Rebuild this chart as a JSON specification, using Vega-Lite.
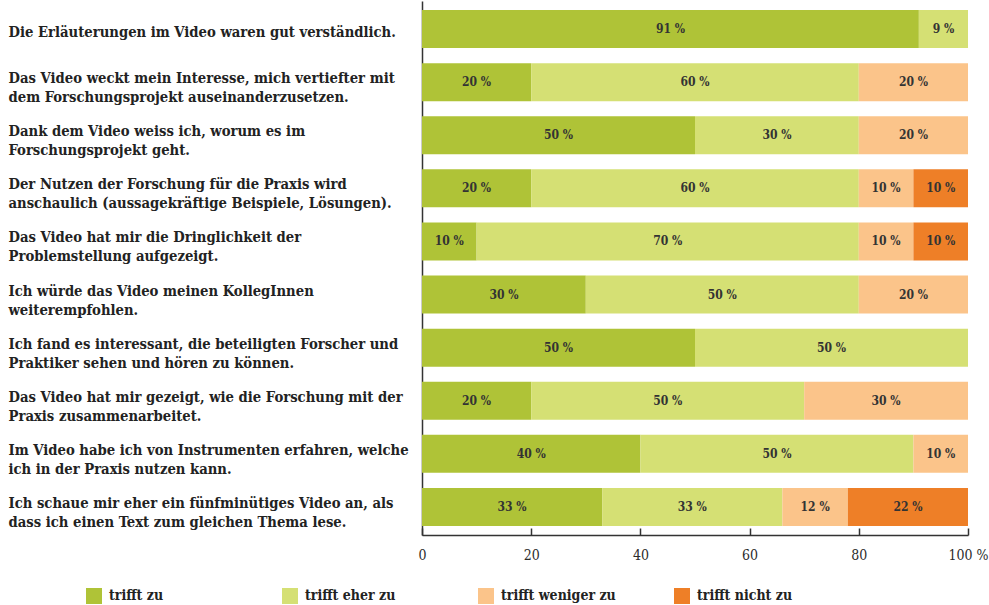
{
  "$schema": "https://vega.github.io/schema/vega-lite/v6.json",
  "autosize": {"type": "none"},
  "width": 546,
  "height": 534,
  "padding": {"left": 422, "top": 1, "right": 21, "bottom": 70},
  "background": "white",
  "config": {
    "view": {"stroke": null},
    "font": "DejaVu Serif Condensed",
    "axis": {"domainColor": "#333333", "tickColor": "#333333", "labelColor": "#2b2b2b", "domainWidth": 1.5, "tickWidth": 1.5}
  },
  "data": {
    "values": [
      {"q": "Die Erläuterungen im Video waren gut verständlich.", "cat": "trifft zu", "k": 1, "value": 91},
      {"q": "Die Erläuterungen im Video waren gut verständlich.", "cat": "trifft eher zu", "k": 2, "value": 9},
      {"q": "Das Video weckt mein Interesse, mich vertiefter mit|dem Forschungsprojekt auseinanderzusetzen.", "cat": "trifft zu", "k": 1, "value": 20},
      {"q": "Das Video weckt mein Interesse, mich vertiefter mit|dem Forschungsprojekt auseinanderzusetzen.", "cat": "trifft eher zu", "k": 2, "value": 60},
      {"q": "Das Video weckt mein Interesse, mich vertiefter mit|dem Forschungsprojekt auseinanderzusetzen.", "cat": "trifft weniger zu", "k": 3, "value": 20},
      {"q": "Dank dem Video weiss ich, worum es im|Forschungsprojekt geht.", "cat": "trifft zu", "k": 1, "value": 50},
      {"q": "Dank dem Video weiss ich, worum es im|Forschungsprojekt geht.", "cat": "trifft eher zu", "k": 2, "value": 30},
      {"q": "Dank dem Video weiss ich, worum es im|Forschungsprojekt geht.", "cat": "trifft weniger zu", "k": 3, "value": 20},
      {"q": "Der Nutzen der Forschung für die Praxis wird|anschaulich (aussagekräftige Beispiele, Lösungen).", "cat": "trifft zu", "k": 1, "value": 20},
      {"q": "Der Nutzen der Forschung für die Praxis wird|anschaulich (aussagekräftige Beispiele, Lösungen).", "cat": "trifft eher zu", "k": 2, "value": 60},
      {"q": "Der Nutzen der Forschung für die Praxis wird|anschaulich (aussagekräftige Beispiele, Lösungen).", "cat": "trifft weniger zu", "k": 3, "value": 10},
      {"q": "Der Nutzen der Forschung für die Praxis wird|anschaulich (aussagekräftige Beispiele, Lösungen).", "cat": "trifft nicht zu", "k": 4, "value": 10},
      {"q": "Das Video hat mir die Dringlichkeit der|Problemstellung aufgezeigt.", "cat": "trifft zu", "k": 1, "value": 10},
      {"q": "Das Video hat mir die Dringlichkeit der|Problemstellung aufgezeigt.", "cat": "trifft eher zu", "k": 2, "value": 70},
      {"q": "Das Video hat mir die Dringlichkeit der|Problemstellung aufgezeigt.", "cat": "trifft weniger zu", "k": 3, "value": 10},
      {"q": "Das Video hat mir die Dringlichkeit der|Problemstellung aufgezeigt.", "cat": "trifft nicht zu", "k": 4, "value": 10},
      {"q": "Ich würde das Video meinen KollegInnen|weiterempfohlen.", "cat": "trifft zu", "k": 1, "value": 30},
      {"q": "Ich würde das Video meinen KollegInnen|weiterempfohlen.", "cat": "trifft eher zu", "k": 2, "value": 50},
      {"q": "Ich würde das Video meinen KollegInnen|weiterempfohlen.", "cat": "trifft weniger zu", "k": 3, "value": 20},
      {"q": "Ich fand es interessant, die beteiligten Forscher und|Praktiker sehen und hören zu können.", "cat": "trifft zu", "k": 1, "value": 50},
      {"q": "Ich fand es interessant, die beteiligten Forscher und|Praktiker sehen und hören zu können.", "cat": "trifft eher zu", "k": 2, "value": 50},
      {"q": "Das Video hat mir gezeigt, wie die Forschung mit der|Praxis zusammenarbeitet.", "cat": "trifft zu", "k": 1, "value": 20},
      {"q": "Das Video hat mir gezeigt, wie die Forschung mit der|Praxis zusammenarbeitet.", "cat": "trifft eher zu", "k": 2, "value": 50},
      {"q": "Das Video hat mir gezeigt, wie die Forschung mit der|Praxis zusammenarbeitet.", "cat": "trifft weniger zu", "k": 3, "value": 30},
      {"q": "Im Video habe ich von Instrumenten erfahren, welche|ich in der Praxis nutzen kann.", "cat": "trifft zu", "k": 1, "value": 40},
      {"q": "Im Video habe ich von Instrumenten erfahren, welche|ich in der Praxis nutzen kann.", "cat": "trifft eher zu", "k": 2, "value": 50},
      {"q": "Im Video habe ich von Instrumenten erfahren, welche|ich in der Praxis nutzen kann.", "cat": "trifft weniger zu", "k": 3, "value": 10},
      {"q": "Ich schaue mir eher ein fünfminütiges Video an, als|dass ich einen Text zum gleichen Thema lese.", "cat": "trifft zu", "k": 1, "value": 33},
      {"q": "Ich schaue mir eher ein fünfminütiges Video an, als|dass ich einen Text zum gleichen Thema lese.", "cat": "trifft eher zu", "k": 2, "value": 33},
      {"q": "Ich schaue mir eher ein fünfminütiges Video an, als|dass ich einen Text zum gleichen Thema lese.", "cat": "trifft weniger zu", "k": 3, "value": 12},
      {"q": "Ich schaue mir eher ein fünfminütiges Video an, als|dass ich einen Text zum gleichen Thema lese.", "cat": "trifft nicht zu", "k": 4, "value": 22}
    ]
  },
  "encoding": {
    "y": {
      "field": "q", "type": "nominal", "sort": null, "title": null,
      "scale": {"paddingInner": 0.284, "paddingOuter": 0.17},
      "axis": {
        "ticks": false, "labelAlign": "left", "labelPadding": 414, "labelBaseline": "middle",
        "labelExpr": "split(datum.label, '|')", "labelFontSize": 14.7, "labelFontWeight": "bold",
        "labelLineHeight": 19,
        "labelOffset": {"condition": {"test": "indexof(datum.value, '|') >= 0", "value": -3}, "value": 4},
        "labelLimit": 420, "labelColor": "#222222"
      }
    },
    "x": {
      "field": "value", "type": "quantitative", "stack": "zero", "title": null,
      "scale": {"domain": [0, 100], "nice": false},
      "axis": {
        "values": [0, 20, 40, 60, 80, 100], "tickSize": -7, "labelPadding": 20, "labelFontSize": 14,
        "labelExpr": "datum.value == 100 ? '100 %' : datum.label", "grid": false, "labelFlush": false
      }
    },
    "order": {"field": "k", "type": "quantitative"}
  },
  "layer": [
    {
      "mark": {"type": "bar"},
      "encoding": {
        "color": {
          "field": "cat", "type": "nominal", "title": null,
          "sort": ["trifft zu", "trifft eher zu", "trifft weniger zu", "trifft nicht zu"],
          "scale": {"domain": ["trifft zu", "trifft eher zu", "trifft weniger zu", "trifft nicht zu"], "range": ["#afc337", "#d5e074", "#fbc48a", "#ee7f27"]},
          "legend": {
            "orient": "none", "direction": "horizontal", "columns": 4, "legendX": -336, "legendY": 587,
            "padding": 0, "symbolType": "square", "symbolSize": 256, "symbolStrokeWidth": 0, "symbolOpacity": 1,
            "labelFontSize": 14, "labelFontWeight": "bold", "labelColor": "#222222", "labelOffset": 7,
            "gridAlign": "all", "columnPadding": 58, "labelLimit": 300
          }
        }
      }
    },
    {
      "transform": [{"filter": "datum.value > 0"}],
      "mark": {"type": "text", "fontSize": 12, "fontWeight": "bold", "color": "#333333", "text": {"expr": "datum.value + ' %'"}},
      "encoding": {
        "x": {"field": "value", "type": "quantitative", "stack": "zero", "bandPosition": 0.5},
        "detail": {"field": "cat", "type": "nominal"}
      }
    }
  ]
}
